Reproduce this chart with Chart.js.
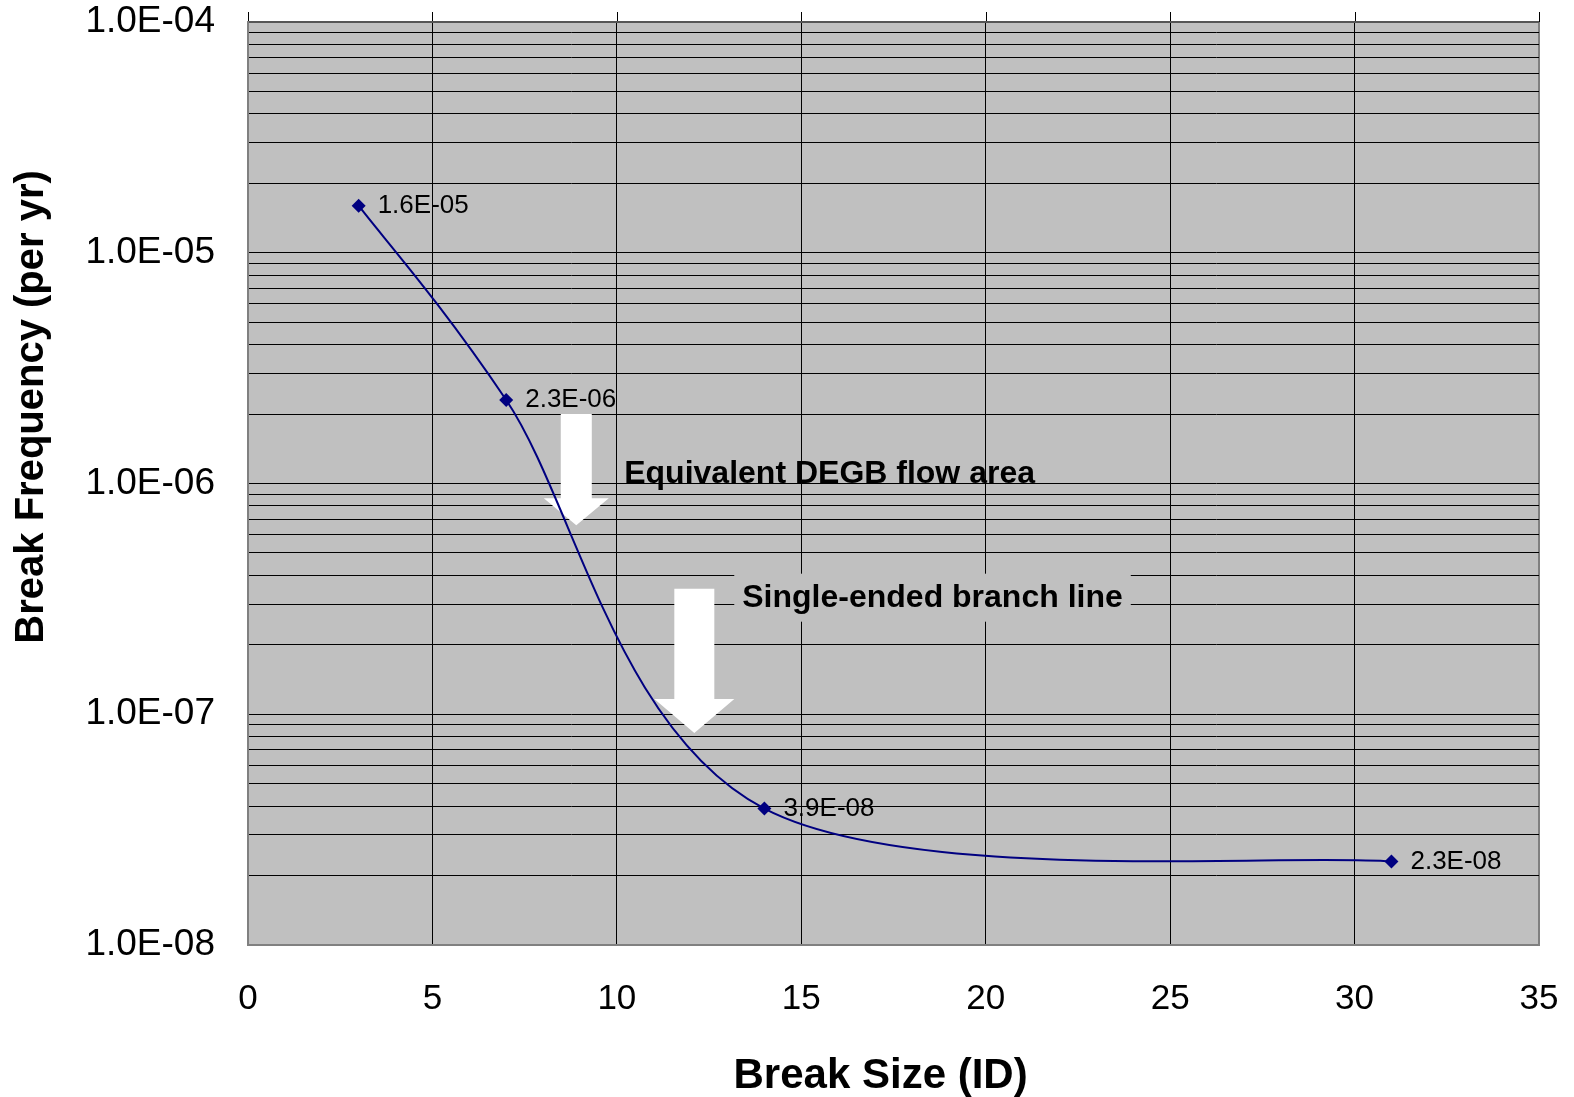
<!DOCTYPE html>
<html>
<head>
<meta charset="utf-8">
<script src="https://cdn.jsdelivr.net/npm/chart.js@4/dist/chart.umd.min.js"></script>
<style>
  html, body { margin: 0; padding: 0; background: #fff; }
  #wrap { width: 1574px; height: 1097px; }
</style>
</head>
<body>
<div id="wrap"><canvas id="breakChart"></canvas></div>
<script>
// data
const breakSize = [3, 7, 14, 31];
const breakFreq = [1.6e-5, 2.3e-6, 3.9e-8, 2.3e-8];
const pointLabels = ['1.6E-05', '2.3E-06', '3.9E-08', '2.3E-08'];

const xTicks = [0, 5, 10, 15, 20, 25, 30, 35];
const yDecades = [1e-8, 1e-7, 1e-6, 1e-5, 1e-4];
const yDecadeLabels = ['1.0E-08', '1.0E-07', '1.0E-06', '1.0E-05', '1.0E-04'];

// annotations (in data units)
const noteText = ['Equivalent DEGB flow area', 'Single-ended branch line'];
const noteX = [10.2, 13.4];
const noteY = [1.1e-6, 3.2e-7];
const arrowX = [8.9, 12.1];
const arrowTop = [2.0e-6, 3.5e-7];
const arrowTip = [6.6e-7, 8.3e-8];

// gridlines at 1..9 of each decade
let yGrid = [];
for (let i = 0; i < yDecades.length - 1; i++) {
	for (let m = 1; m <= 9; m++) yGrid.push(m * yDecades[i]);
}
yGrid.push(yDecades[yDecades.length - 1]);

function decadeIndex(v) {
	return yDecades.findIndex(d => Math.abs(v / d - 1) < 1e-9);
}

const FONT = "'Liberation Sans', Arial, sans-serif";
const NAVY = '#000080';

// arrow look, per arrow
const arrowStyle = [
	{ shaft: 31, head: 65, headLen: 27 },
	{ shaft: 40, head: 80, headLen: 34 }
];

// spreadsheet style smoothing: control points at +-1/6 of the neighbour chord
const excelSmooth = {
	id: 'excelSmooth',
	beforeDatasetDraw(chart, args) {
		const meta = args.meta;
		const pts = meta.data;
		const line = meta.dataset;
		if (!line || pts.length < 2) return;
		pts.forEach((p, i) => {
			const prev = pts[i - 1] || p;
			const next = pts[i + 1] || p;
			const dx = (next.x - prev.x) / 6;
			const dy = (next.y - prev.y) / 6;
			p.cp1x = p.x - dx;
			p.cp1y = p.y - dy;
			p.cp2x = p.x + dx;
			p.cp2y = p.y + dy;
		});
		line._pointsUpdated = true;
	}
};

const plotDecor = {
	id: 'plotDecor',
	beforeDraw(chart) {
		const { ctx, chartArea: a, scales } = chart;
		ctx.save();
		ctx.fillStyle = '#C0C0C0';
		ctx.fillRect(a.left, a.top, a.right - a.left, a.bottom - a.top);
		// little stubs of the vertical gridlines above the plot
		ctx.strokeStyle = '#000';
		ctx.lineWidth = 1;
		xTicks.forEach(t => {
			let px = Math.round(scales.x.getPixelForValue(t)) + 0.5;
			ctx.beginPath();
			ctx.moveTo(px, a.top - 10);
			ctx.lineTo(px, a.top);
			ctx.stroke();
		});
		ctx.restore();
	},
	beforeDatasetsDraw(chart) {
		const { ctx, scales } = chart;
		const xs = scales.x, ys = scales.y;
		ctx.save();
		// white arrows
		ctx.fillStyle = '#fff';
		arrowX.forEach((ax, i) => {
			const st = arrowStyle[i];
			let cx = xs.getPixelForValue(ax);
			let top = ys.getPixelForValue(arrowTop[i]);
			let tip = ys.getPixelForValue(arrowTip[i]);
			let neck = tip - st.headLen;
			ctx.beginPath();
			ctx.moveTo(cx - st.shaft / 2, top);
			ctx.lineTo(cx + st.shaft / 2, top);
			ctx.lineTo(cx + st.shaft / 2, neck);
			ctx.lineTo(cx + st.head / 2, neck);
			ctx.lineTo(cx, tip);
			ctx.lineTo(cx - st.head / 2, neck);
			ctx.lineTo(cx - st.shaft / 2, neck);
			ctx.closePath();
			ctx.fill();
		});
		// notes
		ctx.font = 'bold 32px ' + FONT;
		ctx.textBaseline = 'middle';
		ctx.textAlign = 'left';
		noteText.forEach((txt, i) => {
			let px = xs.getPixelForValue(noteX[i]);
			let py = ys.getPixelForValue(noteY[i]);
			if (i == 1) {
				let w = ctx.measureText(txt).width;
				ctx.fillStyle = '#C0C0C0';
				ctx.fillRect(px - 8, py - 24, w + 16, 48);
			}
			ctx.fillStyle = '#000';
			ctx.fillText(txt, px, py);
		});
		ctx.restore();
	},
	afterDatasetsDraw(chart) {
		const { ctx } = chart;
		const meta = chart.getDatasetMeta(0);
		ctx.save();
		ctx.font = '26px ' + FONT;
		ctx.fillStyle = '#000';
		ctx.textBaseline = 'middle';
		ctx.textAlign = 'left';
		meta.data.forEach((pt, i) => {
			ctx.fillText(pointLabels[i], pt.x + 19, pt.y);
		});
		ctx.restore();
	},
	afterDraw(chart) {
		// axis titles drawn here, the original sits them a little off centre
		const { ctx, chartArea: a } = chart;
		ctx.save();
		ctx.fillStyle = '#000';
		ctx.textAlign = 'center';
		ctx.textBaseline = 'middle';
		ctx.font = 'bold 42px ' + FONT;
		ctx.fillText('Break Size (ID)', a.left + (a.right - a.left) * 0.49, a.bottom + 131);
		ctx.font = 'bold 40px ' + FONT;
		ctx.translate(32, a.top + (a.bottom - a.top) * 0.417);
		ctx.rotate(-Math.PI / 2);
		ctx.fillText('Break Frequency (per yr)', 0, 0);
		ctx.restore();
	}
};

const ctx = document.getElementById('breakChart').getContext('2d');
new Chart(ctx, {
	type: 'line',
	data: {
		datasets: [{
			label: 'Break frequency',
			data: breakSize.map((x, i) => ({ x: x, y: breakFreq[i] })),
			borderColor: NAVY,
			backgroundColor: NAVY,
			borderWidth: 2,
			tension: 0.4,
			pointStyle: 'rectRot',
			pointRadius: 7,
			pointBorderWidth: 0,
			fill: false
		}]
	},
	options: {
		responsive: true,
		maintainAspectRatio: false,
		animation: false,
		layout: { padding: { left: 0, top: 22, right: 35, bottom: 0 } },
		plugins: {
			legend: { display: false },
			tooltip: { enabled: false }
		},
		scales: {
			x: {
				type: 'linear',
				min: 0,
				max: 35,
				afterBuildTicks: scale => { scale.ticks = xTicks.map(v => ({ value: v })); },
				afterFit: scale => {
					scale.height = 152;
					scale.paddingLeft = 0;
					scale.paddingRight = 0;
				},
				grid: {
					drawTicks: false,
					color: c => (c.tick && c.tick.value == 35) ? '#808080' : '#000',
					lineWidth: c => (c.tick && c.tick.value == 35) ? 2 : 1
				},
				border: { color: '#808080', width: 2 },
				ticks: {
					padding: 33,
					color: '#000',
					font: { family: FONT, size: 35 },
					maxRotation: 0,
					autoSkip: false,
					callback: v => String(v)
				},
				title: { display: false }
			},
			y: {
				type: 'logarithmic',
				min: 1e-8,
				max: 1e-4,
				afterBuildTicks: scale => {
					scale.ticks = yGrid.map(v => ({ value: v, major: decadeIndex(v) >= 0 }));
				},
				afterFit: scale => {
					scale.width = 248;
					scale.paddingTop = 0;
					scale.paddingBottom = 0;
				},
				grid: {
					drawTicks: false,
					color: c => (c.tick && decadeIndex(c.tick.value) == 4) ? '#555' : '#000',
					lineWidth: c => (c.tick && decadeIndex(c.tick.value) == 4) ? 2 : 1
				},
				border: { color: '#808080', width: 2 },
				ticks: {
					padding: 33,
					color: '#000',
					autoSkip: false,
					font: { family: FONT, size: 37 },
					callback: v => {
						let k = decadeIndex(v);
						return k >= 0 ? yDecadeLabels[k] : '';
					}
				},
				title: { display: false }
			}
		}
	},
	plugins: [excelSmooth, plotDecor]
});
</script>
</body>
</html>
